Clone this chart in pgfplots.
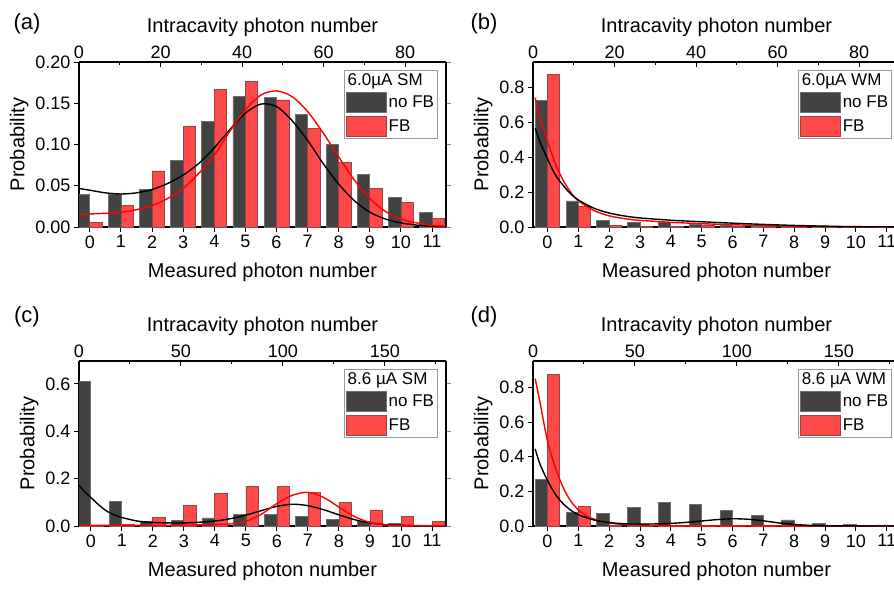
\documentclass[border=0pt]{standalone}
\usepackage{fontspec}
\setmainfont{Liberation Sans}
\usepackage{pgfplots}
\pgfplotsset{compat=1.18}

\definecolor{nofbfill}{RGB}{66,66,66}
\definecolor{nofbedge}{RGB}{110,110,110}
\definecolor{fbfill}{RGB}{255,72,72}
\definecolor{fbedge}{RGB}{150,70,70}

\pgfplotsset{
  panelbase/.style={
    scale only axis, width=367pt, height=165pt, anchor=north west,
    axis line style={line width=1.2pt},
    label style={font=\fontsize{20}{24}\selectfont},
    ticklabel style={font=\fontsize{18}{20}\selectfont},
    /pgf/number format/assume math mode=true,
    major tick length=5pt, minor tick length=3pt,
    tick style={black, line width=1pt},
    ymin=0,
  },
  lower/.style={
    panelbase,
    axis x line*=bottom, axis y line*=left,
    xtick align=outside, ytick align=outside,
    xtick={0,...,11},
    xlabel={Measured photon number}, ylabel={Probability},
    xlabel style={yshift=-8pt},
    legend cell align=left,
    legend style={at={(1,1)}, anchor=north east, xshift=-8pt, yshift=-8pt,
      draw=gray!80, line width=0.8pt, fill=white,
      font=\fontsize{17}{19}\selectfont,
      inner xsep=2pt, inner ysep=2pt, row sep=3pt,
      nodes={inner sep=1.5pt}},
  },
  upper/.style={
    panelbase,
    axis x line*=top, axis y line*=right,
    xtick align=inside, ytick align=outside,
    yticklabels={}, xmin=0,
    every major y tick/.append style={gray},
    xlabel={Intracavity photon number},
    xlabel style={yshift=2pt},
  },
  nofb/.style={ybar, bar width=0.4, bar shift=-0.2, fill=nofbfill, draw=nofbedge, line width=0.8pt,
    legend image code/.code={\draw[##1] (0pt,-10pt) rectangle (40pt,10pt);}},
  fb/.style={ybar, bar width=0.4, bar shift=0.2, fill=fbfill, draw=fbedge, line width=0.8pt,
    legend image code/.code={\draw[##1] (0pt,-10pt) rectangle (40pt,10pt);}},
  fitblack/.style={black, line width=1.4pt, smooth, forget plot},
  fitred/.style={red, line width=1.4pt, smooth, forget plot},
}

\newcommand{\legtitle}[1]{\addlegendimage{empty legend}\addlegendentry{\hspace{-41pt}#1}}

\begin{document}
\begin{tikzpicture}
\useasboundingbox (0,0) rectangle (894pt,-589pt);
\clip (0,0) rectangle (894pt,-589pt);

% ---------------- (a) 6.0 uA SM ----------------
\begin{axis}[lower, at={(79pt,-62pt)}, xmin=-0.35, xmax=11.45, ymax=0.20,
  ytick={0,0.05,...,0.2},
  yticklabel style={/pgf/number format/.cd, fixed, fixed zerofill, precision=2}]
\legtitle{6.0µA SM}
\addplot[nofb] coordinates {(0,0.040)(1,0.040)(2,0.045)(3,0.081)(4,0.128)(5,0.158)(6,0.157)(7,0.136)(8,0.100)(9,0.064)(10,0.036)(11,0.018)};
\addlegendentry{no FB}
\addplot[fb] coordinates {(0,0.005)(1,0.026)(2,0.068)(3,0.122)(4,0.167)(5,0.176)(6,0.154)(7,0.120)(8,0.078)(9,0.047)(10,0.030)(11,0.010)};
\addlegendentry{FB}
\addplot[fitblack] coordinates {(-0.35,0.0467)(0,0.0446)(0.5,0.0414)(1,0.0400)(1.5,0.0414)(2,0.0454)(2.5,0.0527)(3,0.063)(3.5,0.077)(4,0.096)(4.5,0.118)(5,0.138)(5.5,0.149)(6,0.146)(6.5,0.129)(7,0.105)(7.5,0.077)(8,0.052)(8.5,0.032)(9,0.018)(9.5,0.0097)(10,0.005)(10.5,0.0024)(11,0.001)(11.45,0.0004)};
\addplot[fitred] coordinates {(-0.35,0.015)(0,0.0158)(0.5,0.0166)(1,0.0178)(1.5,0.021)(2,0.026)(2.5,0.0345)(3,0.0467)(3.5,0.065)(4,0.087)(4.5,0.116)(5,0.142)(5.5,0.160)(6,0.165)(6.5,0.158)(7,0.140)(7.5,0.114)(8,0.085)(8.5,0.057)(9,0.0345)(9.5,0.019)(10,0.0097)(10.5,0.005)(11,0.002)(11.45,0.001)};
\end{axis}
\begin{axis}[upper, at={(79pt,-62pt)}, xmax=90, ymax=0.20,
  xtick={0,20,...,80}, minor xtick={10,30,50,70}, ytick={0,0.05,...,0.2}]
\end{axis}

% ---------------- (b) 6.0 uA WM ----------------
\begin{axis}[lower, at={(533pt,-62pt)}, xmin=-0.47, xmax=11.43, ymax=0.945,
  ytick={0,0.2,...,0.8},
  yticklabel style={/pgf/number format/.cd, fixed, fixed zerofill, precision=1}]
\legtitle{6.0µA WM}
\addplot[nofb] coordinates {(0,0.723)(1,0.149)(2,0.035)(3,0.027)(4,0.025)(5,0.015)(6,0.009)(7,0.005)(8,0.003)(9,0.002)(10,0.001)(11,0.001)};
\addlegendentry{no FB}
\addplot[fb] coordinates {(0,0.873)(1,0.116)(2,0.008)(3,0.002)(4,0.004)(5,0.012)(6,0.006)(7,0.003)(8,0.002)(9,0.001)(10,0)(11,0)};
\addlegendentry{FB}
\addplot[fitred] coordinates {(-0.4,0.74)(-0.25,0.63)(0,0.49)(0.25,0.365)(0.5,0.27)(0.75,0.2)(1,0.15)(1.5,0.095)(2,0.064)(2.5,0.048)(3,0.038)(4,0.027)(5,0.019)(6,0.013)(7,0.008)(8,0.004)(9,0.002)(10,0.001)(11.43,0)};
\addplot[fitblack] coordinates {(-0.4,0.565)(-0.25,0.49)(0,0.39)(0.25,0.30)(0.5,0.24)(0.75,0.19)(1,0.155)(1.5,0.108)(2,0.08)(2.5,0.063)(3,0.052)(4,0.039)(5,0.030)(6,0.022)(7,0.015)(8,0.009)(9,0.005)(10,0.002)(11.43,0.001)};
\end{axis}
\begin{axis}[upper, at={(533pt,-62pt)}, xmax=90, ymax=0.945,
  xtick={0,20,...,80}, minor xtick={10,30,50,70}, ytick={0,0.2,...,0.8}]
\end{axis}

% ---------------- (c) 8.6 uA SM ----------------
\begin{axis}[lower, at={(79pt,-361pt)}, xmin=-0.38, xmax=11.45, ymax=0.697,
  ytick={0,0.2,...,0.6},
  yticklabel style={/pgf/number format/.cd, fixed, fixed zerofill, precision=1}]
\legtitle{8.6 µA SM}
\addplot[nofb] coordinates {(0,0.612)(1,0.103)(2,0.018)(3,0.023)(4,0.034)(5,0.047)(6,0.048)(7,0.042)(8,0.028)(9,0.021)(10,0.011)(11,0.003)};
\addlegendentry{no FB}
\addplot[fb] coordinates {(0,0.002)(1,0.008)(2,0.038)(3,0.085)(4,0.137)(5,0.168)(6,0.166)(7,0.141)(8,0.101)(9,0.068)(10,0.040)(11,0.020)};
\addlegendentry{FB}
\addplot[fitblack] coordinates {(-0.38,0.172)(-0.2,0.145)(0,0.121)(0.25,0.09)(0.5,0.064)(0.75,0.047)(1,0.036)(1.5,0.021)(2,0.015)(2.5,0.013)(3,0.013)(3.5,0.016)(4,0.021)(4.5,0.031)(5,0.046)(5.5,0.065)(6,0.083)(6.5,0.092)(7,0.086)(7.5,0.069)(8,0.047)(8.5,0.027)(9,0.013)(9.5,0.006)(10,0.003)(10.5,0.001)(11.45,0)};
\addplot[fitred] coordinates {(-0.38,0.003)(2,0.003)(3,0.004)(4,0.006)(4.5,0.009)(5,0.02)(5.5,0.05)(6,0.095)(6.5,0.13)(7,0.142)(7.5,0.121)(8,0.08)(8.5,0.04)(9,0.015)(9.5,0.005)(10,0.002)(11.45,0.001)};
\end{axis}
\begin{axis}[upper, at={(79pt,-361pt)}, xmax=180, ymax=0.697,
  xtick={0,50,100,150}, minor xtick={25,75,125,175}, ytick={0,0.2,...,0.6}]
\end{axis}

% ---------------- (d) 8.6 uA WM ----------------
\begin{axis}[lower, at={(533pt,-361pt)}, xmin=-0.47, xmax=11.43, ymax=0.952,
  ytick={0,0.2,...,0.8},
  yticklabel style={/pgf/number format/.cd, fixed, fixed zerofill, precision=1}]
\legtitle{8.6 µA WM}
\addplot[nofb] coordinates {(0,0.267)(1,0.077)(2,0.075)(3,0.109)(4,0.134)(5,0.123)(6,0.090)(7,0.061)(8,0.035)(9,0.017)(10,0.008)(11,0.006)};
\addlegendentry{no FB}
\addplot[fb] coordinates {(0,0.873)(1,0.113)(2,0.002)(3,0.001)(4,0.001)(5,0.001)(6,0)(7,0)(8,0)(9,0)(10,0)(11,0)};
\addlegendentry{FB}
\addplot[fitred] coordinates {(-0.4,0.85)(-0.25,0.72)(0,0.49)(0.25,0.34)(0.5,0.225)(0.75,0.145)(1,0.093)(1.25,0.06)(1.5,0.04)(2,0.018)(2.5,0.008)(3,0.004)(4,0.001)(11.43,0)};
\addplot[fitblack] coordinates {(-0.4,0.445)(-0.25,0.36)(0,0.263)(0.25,0.185)(0.5,0.13)(0.75,0.092)(1,0.065)(1.5,0.035)(2,0.02)(2.5,0.013)(3,0.011)(3.5,0.012)(4,0.015)(4.5,0.021)(5,0.029)(5.5,0.037)(6,0.042)(6.5,0.039)(7,0.03)(7.5,0.018)(8,0.009)(8.5,0.004)(9,0.001)(11.43,0)};
\end{axis}
\begin{axis}[upper, at={(533pt,-361pt)}, xmax=180, ymax=0.952,
  xtick={0,50,100,150}, minor xtick={25,75,125,175}, ytick={0,0.2,...,0.8}]
\end{axis}

% panel letters
\node[font=\fontsize{22}{24}\selectfont] at (27pt,-24pt) {(a)};
\node[font=\fontsize{22}{24}\selectfont] at (484pt,-24pt) {(b)};
\node[font=\fontsize{22}{24}\selectfont] at (27pt,-317pt) {(c)};
\node[font=\fontsize{22}{24}\selectfont] at (484pt,-317pt) {(d)};
\end{tikzpicture}
\end{document}
